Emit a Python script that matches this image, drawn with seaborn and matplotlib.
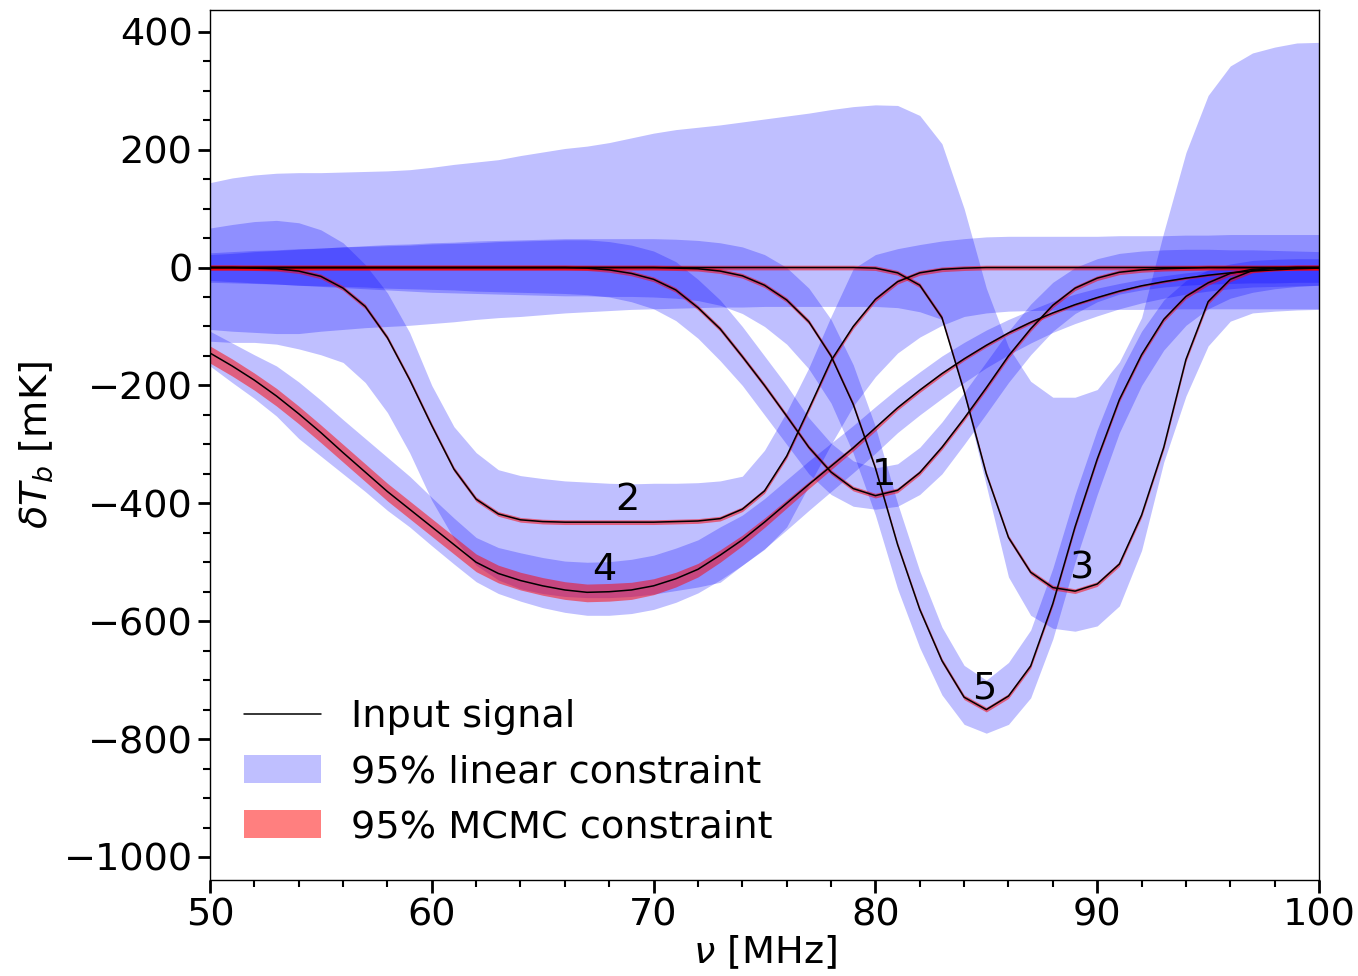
import numpy as np
import pandas as pd
import matplotlib
matplotlib.use("Agg")
import matplotlib.pyplot as plt
from matplotlib.lines import Line2D
from matplotlib.patches import Patch
import seaborn as sns

# Frequency grid [MHz]
freq = list(range(50, 101))

# Input signals [mK]
signal_1 = [0, 0, 0, 0, 0, 0, 0, 0, 0, 0, 0, 0, 0, 0, 0, 0, 0,
            -1, -4, -10, -20, -38, -68, -104, -151, -200, -252, -305, -347, -375, -387,
            -378, -348, -305, -256, -204, -150, -104, -64, -35, -18, -8, -4, -2, -1,
            0, 0, 0, 0, 0, 0]
signal_2 = [0, 0, -1, -2, -6, -15, -35, -66, -119, -190, -268, -342, -393, -418, -428,
            -431, -432, -432, -432, -432, -432, -431, -430, -426, -410, -379, -320, -240,
            -158, -100, -54, -24, -9, -3, -1,
            0, 0, 0, 0, 0, 0, 0, 0, 0, 0, 0, 0, 0, 0, 0, 0]
signal_3 = [0, 0, 0, 0, 0, 0, 0, 0, 0, 0, 0, 0, 0, 0, 0, 0, 0, 0, 0, 0, 0, 0, 0, 0, 0,
            0, 0, 0, 0, 0,
            -1, -9, -30, -85, -210, -350, -458, -517, -543, -549, -537, -503, -420, -305,
            -156, -58, -20, -5, -1, 0, 0]
signal_4 = [-145, -167, -191, -218, -248, -280, -314, -347, -380, -410, -440, -470, -500,
            -519, -531, -540, -547, -551, -550, -547, -540, -528, -512, -488, -462, -432,
            -400, -368, -337, -306, -272, -238, -208, -180, -155, -132, -111, -93, -77,
            -63, -51, -40, -31, -24, -18, -13, -9, -6, -4, -2, -1]
signal_5 = [0, 0, 0, 0, 0, 0, 0, 0, 0, 0, 0, 0, 0, 0, 0, 0, 0, 0, 0, 0, 0,
            -1, -2, -6, -14, -30, -55, -92, -150, -232, -340, -470, -580, -667, -729, -750,
            -727, -676, -570, -440, -325, -224, -148, -88, -49, -26, -10, -3, -1, 0, 0]

# 95% linear-fit constraints [mK]
linear_lo_1 = [-25, -26, -27, -28, -30, -31, -32, -33, -35, -36, -37, -38, -40, -41, -42,
               -43, -44, -46, -50, -58, -70, -90, -120, -158, -200, -250, -300, -350, -385,
               -405, -410, -405, -385, -350, -300, -248, -195, -148, -108, -78, -58, -45,
               -38, -33, -30, -28, -27, -26, -26, -25, -25]
linear_hi_1 = [25, 27, 29, 30, 32, 33, 35, 36, 37, 38, 40, 41, 42, 44, 45, 46, 47, 47, 44,
               38, 28, 10, -20, -55, -100, -150, -200, -255, -298, -328, -340, -333, -305,
               -262, -212, -160, -108, -62, -25, 0, 15, 24, 28, 30, 31, 31, 30, 30, 29, 28, 27]
linear_lo_2 = [-125, -127, -127, -130, -138, -148, -161, -195, -246, -314, -395, -460, -505,
               -530, -545, -553, -558, -560, -560, -558, -554, -548, -542, -534, -505, -478,
               -440, -370, -300, -235, -185, -145, -118, -98, -83, -77, -74, -73, -72, -72,
               -71, -71, -71, -70, -70, -70, -70, -70, -70, -70, -70]
linear_hi_2 = [67, 73, 78, 80, 76, 64, 42, 5, -43, -110, -200, -270, -314, -343, -353, -358,
               -362, -364, -366, -367, -366, -366, -365, -362, -354, -310, -245, -170, -83,
               -2, 22, 32, 39, 45, 49, 52, 53, 53, 53, 53, 53, 54, 54, 54, 55, 55, 56, 56, 56,
               56, 56]
linear_lo_3 = [-105, -108, -110, -112, -112, -108, -105, -102, -100, -98, -95, -92, -88, -85,
               -83, -80, -77, -75, -73, -71, -70, -69, -68, -67, -67, -66, -66, -66, -66, -66,
               -66, -68, -75, -88, -215, -370, -525, -590, -612, -617, -608, -574, -480, -330,
               -218, -133, -91, -77, -74, -72, -71]
linear_hi_3 = [144, 152, 157, 160, 161, 161, 162, 163, 164, 166, 170, 175, 179, 183, 190, 196,
               202, 206, 212, 220, 228, 234, 238, 242, 247, 252, 257, 262, 268, 273, 276, 275,
               258, 210, 100, -35, -135, -193, -220, -220, -207, -160, -85, 60, 195, 292, 342,
               364, 374, 381, 382]
linear_lo_4 = [-167, -195, -222, -252, -290, -320, -350, -380, -412, -440, -472, -503, -533,
               -553, -566, -577, -585, -590, -590, -587, -580, -568, -552, -530, -505, -477,
               -445, -412, -380, -348, -315, -280, -250, -222, -195, -170, -148, -128, -110,
               -95, -82, -70, -60, -52, -45, -40, -36, -33, -32, -31, -30]
linear_hi_4 = [-108, -128, -148, -167, -194, -225, -258, -290, -322, -354, -390, -425, -458,
               -475, -484, -492, -498, -500, -499, -495, -488, -476, -462, -440, -420, -392,
               -360, -328, -298, -268, -236, -205, -177, -150, -127, -106, -88, -72, -57, -45,
               -35, -27, -20, -14, -9, -5, -2, 0, 2, 4, 5]
linear_lo_5 = [-22, -24, -26, -28, -30, -32, -34, -36, -38, -40, -42, -43, -44, -45, -46, -47,
               -48, -48, -49, -49, -50, -52, -56, -64, -78, -100, -130, -172, -230, -315, -420,
               -545, -645, -725, -775, -790, -775, -730, -630, -500, -385, -280, -200, -140,
               -98, -70, -52, -42, -36, -32, -30]
linear_hi_5 = [22, 24, 27, 29, 31, 33, 35, 37, 39, 40, 42, 43, 45, 46, 47, 48, 49, 49, 49, 49,
               49, 48, 46, 42, 35, 22, 0, -35, -88, -165, -270, -400, -515, -610, -675, -700,
               -670, -615, -510, -385, -275, -180, -108, -55, -22, -4, 6, 12, 14, 15, 15]

# 95% MCMC constraint on signal 4 [mK]
mcmc_lo_4 = [-162, -184, -208, -235, -265, -297, -330, -363, -396, -426, -456, -486, -516,
             -535, -547, -556, -563, -567, -566, -563, -555, -542, -525, -500, -472, -441,
             -408, -375, -343, -311, -277, -242, -212, -184, -158, -135, -114, -96, -80, -65,
             -53, -42, -33, -26, -20, -15, -11, -8, -6, -4, -3]
mcmc_hi_4 = [-133, -155, -179, -205, -235, -267, -300, -333, -366, -396, -426, -456, -486,
             -505, -517, -526, -533, -537, -536, -534, -528, -517, -502, -479, -454, -425,
             -394, -363, -332, -302, -269, -235, -205, -177, -152, -129, -108, -90, -75, -61,
             -49, -38, -29, -22, -16, -11, -7, -4, -2, 0, 1]
# The other four MCMC posteriors are only a few mK wide
mcmc_halfwidth = 4

curve_labels = ["1", "2", "3", "4", "5"]
label_freq = [80.4, 68.8, 89.3, 67.8, 84.9]
label_temp = [-352, -395, -510, -513, -715]

signals = [signal_1, signal_2, signal_3, signal_4, signal_5]
linear_lo = [linear_lo_1, linear_lo_2, linear_lo_3, linear_lo_4, linear_lo_5]
linear_hi = [linear_hi_1, linear_hi_2, linear_hi_3, linear_hi_4, linear_hi_5]

FS = 27.5

sns.set_theme(style="ticks")
plt.rcParams["font.family"] = ["DejaVu Sans"]
plt.rcParams["mathtext.fontset"] = "dejavusans"
plt.rcParams["text.color"] = "black"
plt.rcParams["axes.labelcolor"] = "black"
plt.rcParams["xtick.color"] = "black"
plt.rcParams["ytick.color"] = "black"

fig = plt.figure(figsize=(13.58, 9.76), dpi=100)
ax = fig.add_axes([0.1546, 0.0984, 0.8167, 0.8914])

f = np.array(freq, dtype=float)
for lo, hi in zip(linear_lo, linear_hi):
    ax.fill_between(f, lo, hi, color="blue", alpha=0.25, linewidth=0)

for k, sig in enumerate(signals):
    s = np.array(sig, dtype=float)
    if k == 3:
        ax.fill_between(f, mcmc_lo_4, mcmc_hi_4, color="red", alpha=0.5, linewidth=0)
    else:
        ax.fill_between(f, s - mcmc_halfwidth, s + mcmc_halfwidth, color="red",
                        alpha=0.5, linewidth=0)

long_df = pd.concat(
    [pd.DataFrame({"freq": freq, "temp": sig, "signal": curve_labels[k]})
     for k, sig in enumerate(signals)],
    ignore_index=True,
)
sns.lineplot(data=long_df, x="freq", y="temp", units="signal", estimator=None,
             color="black", linewidth=1.1, ax=ax, legend=False)

for lab, x, y in zip(curve_labels, label_freq, label_temp):
    ax.text(x, y, lab, fontsize=FS, ha="center", va="center", color="black")

ax.set_xlim(50, 100)
ax.set_ylim(-1039, 437)
ax.set_xticks([50, 60, 70, 80, 90, 100])
ax.set_yticks([-1000, -800, -600, -400, -200, 0, 200, 400])
ax.xaxis.set_minor_locator(matplotlib.ticker.MultipleLocator(2))
ax.yaxis.set_minor_locator(matplotlib.ticker.MultipleLocator(50))
ax.tick_params(axis="both", which="major", direction="out", length=9, width=2,
               labelsize=FS, color="black", labelcolor="black")
ax.tick_params(axis="both", which="minor", direction="out", length=5, width=1.5,
               color="black")
for sp in ax.spines.values():
    sp.set_linewidth(1.0)
    sp.set_color("black")

ax.set_xlabel(r"$\nu$ [MHz]", fontsize=FS, labelpad=0, color="black")
ax.set_ylabel(r"$\delta T_b$ [mK]", fontsize=FS, labelpad=6, color="black")

handles = [
    Line2D([0], [0], color="black", linewidth=1.1),
    Patch(facecolor="blue", alpha=0.25, edgecolor="none"),
    Patch(facecolor="red", alpha=0.5, edgecolor="none"),
]
ax.legend(handles, ["Input signal", "95% linear constraint", "95% MCMC constraint"],
          loc="lower left", bbox_to_anchor=(0.0, 0.0), frameon=False, fontsize=FS,
          handlelength=2.0, handleheight=0.75, handletextpad=0.8, labelspacing=0.5,
          borderpad=0.4, borderaxespad=0.5, labelcolor="black")

fig.savefig("out.png", dpi=100)
